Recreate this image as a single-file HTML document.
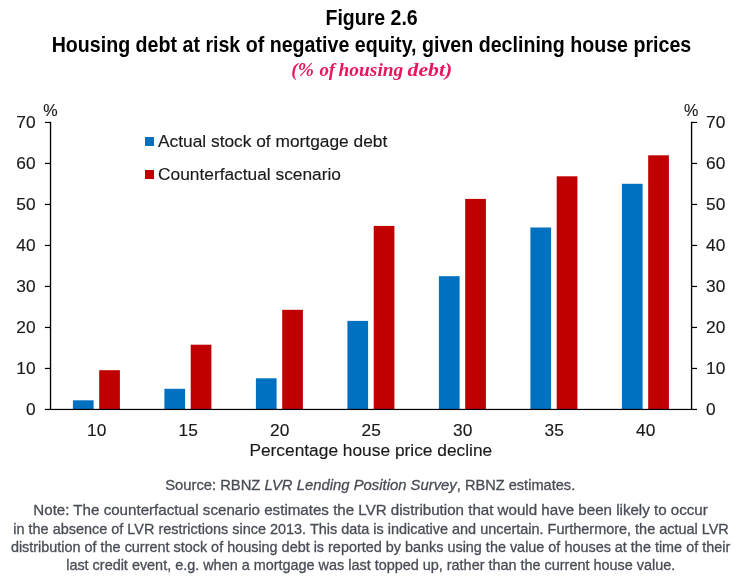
<!DOCTYPE html>
<html><head><meta charset="utf-8"><title>Figure 2.6</title>
<style>
html,body{margin:0;padding:0;background:#fff;}
svg{display:block;}
text{font-family:"Liberation Sans",sans-serif;}
.ax{font-size:17.33px;fill:#1a1a1a;stroke:#1a1a1a;stroke-width:0.15px;}
.note{font-size:14.8px;fill:#494d56;stroke:#494d56;stroke-width:0.3px;}
.ttl{font-weight:bold;font-size:21.7px;fill:#000;}
.sub{font-family:"Liberation Serif",serif;font-weight:bold;font-style:italic;font-size:19.6px;word-spacing:-1px;fill:#e8175d;}
</style></head><body>
<svg width="744" height="587" viewBox="0 0 744 587">
<rect width="744" height="587" fill="#fff"/>
<text class="ttl" x="325.5" y="25" textLength="92.2" lengthAdjust="spacingAndGlyphs">Figure 2.6</text>
<text class="ttl" x="51.7" y="52" textLength="639.6" lengthAdjust="spacingAndGlyphs">Housing debt at risk of negative equity, given declining house prices</text>
<text class="sub" y="75.5"><tspan x="291.3" textLength="26.5" lengthAdjust="spacingAndGlyphs">(% </tspan><tspan x="319.4" textLength="19.5" lengthAdjust="spacingAndGlyphs">of </tspan><tspan x="338.6" textLength="68.5" lengthAdjust="spacingAndGlyphs">housing </tspan><tspan x="407.6" textLength="44.6" lengthAdjust="spacingAndGlyphs">debt)</tspan></text>
<rect x="72.9" y="400.3" width="20.7" height="8.7" fill="#0070c0"/>
<rect x="99.2" y="370.2" width="20.7" height="38.8" fill="#c00000"/>
<rect x="164.4" y="388.8" width="20.7" height="20.2" fill="#0070c0"/>
<rect x="190.7" y="344.7" width="20.7" height="64.3" fill="#c00000"/>
<rect x="255.9" y="378.3" width="20.7" height="30.7" fill="#0070c0"/>
<rect x="282.2" y="309.8" width="20.7" height="99.2" fill="#c00000"/>
<rect x="347.4" y="320.9" width="20.7" height="88.1" fill="#0070c0"/>
<rect x="373.7" y="225.9" width="20.7" height="183.1" fill="#c00000"/>
<rect x="438.9" y="276.2" width="20.7" height="132.8" fill="#0070c0"/>
<rect x="465.2" y="198.9" width="20.7" height="210.1" fill="#c00000"/>
<rect x="530.4" y="227.5" width="20.7" height="181.5" fill="#0070c0"/>
<rect x="556.7" y="176.3" width="20.7" height="232.7" fill="#c00000"/>
<rect x="621.9" y="183.8" width="20.7" height="225.2" fill="#0070c0"/>
<rect x="648.2" y="155.3" width="20.7" height="253.7" fill="#c00000"/>
<g fill="#000">
<rect x="49.85" y="121.85" width="1.35" height="288.1"/>
<rect x="690.9" y="121.85" width="1.35" height="288.1"/>
<rect x="49.85" y="408.85" width="642.4" height="1.2"/>
<rect x="44.9" y="408.85" width="5.5" height="1.2"/>
<rect x="691.5" y="408.85" width="5.5" height="1.2"/>
<rect x="44.9" y="367.85" width="5.5" height="1.2"/>
<rect x="691.5" y="367.85" width="5.5" height="1.2"/>
<rect x="44.9" y="326.85" width="5.5" height="1.2"/>
<rect x="691.5" y="326.85" width="5.5" height="1.2"/>
<rect x="44.9" y="285.85" width="5.5" height="1.2"/>
<rect x="691.5" y="285.85" width="5.5" height="1.2"/>
<rect x="44.9" y="244.85" width="5.5" height="1.2"/>
<rect x="691.5" y="244.85" width="5.5" height="1.2"/>
<rect x="44.9" y="203.85" width="5.5" height="1.2"/>
<rect x="691.5" y="203.85" width="5.5" height="1.2"/>
<rect x="44.9" y="162.85" width="5.5" height="1.2"/>
<rect x="691.5" y="162.85" width="5.5" height="1.2"/>
<rect x="44.9" y="121.85" width="5.5" height="1.2"/>
<rect x="691.5" y="121.85" width="5.5" height="1.2"/>
</g>
<text class="ax" x="35.6" y="415" text-anchor="end">0</text>
<text class="ax" x="706" y="415">0</text>
<text class="ax" x="35.6" y="374" text-anchor="end">10</text>
<text class="ax" x="706" y="374">10</text>
<text class="ax" x="35.6" y="333" text-anchor="end">20</text>
<text class="ax" x="706" y="333">20</text>
<text class="ax" x="35.6" y="292" text-anchor="end">30</text>
<text class="ax" x="706" y="292">30</text>
<text class="ax" x="35.6" y="251" text-anchor="end">40</text>
<text class="ax" x="706" y="251">40</text>
<text class="ax" x="35.6" y="210" text-anchor="end">50</text>
<text class="ax" x="706" y="210">50</text>
<text class="ax" x="35.6" y="169" text-anchor="end">60</text>
<text class="ax" x="706" y="169">60</text>
<text class="ax" x="35.6" y="128" text-anchor="end">70</text>
<text class="ax" x="706" y="128">70</text>
<text class="ax" x="43.2" y="116" textLength="14.4" lengthAdjust="spacingAndGlyphs">%</text>
<text class="ax" x="684" y="116" textLength="14.4" lengthAdjust="spacingAndGlyphs">%</text>
<text class="ax" x="96.75" y="436" text-anchor="middle">10</text>
<text class="ax" x="188.25" y="436" text-anchor="middle">15</text>
<text class="ax" x="279.75" y="436" text-anchor="middle">20</text>
<text class="ax" x="371.25" y="436" text-anchor="middle">25</text>
<text class="ax" x="462.75" y="436" text-anchor="middle">30</text>
<text class="ax" x="554.25" y="436" text-anchor="middle">35</text>
<text class="ax" x="645.75" y="436" text-anchor="middle">40</text>
<text class="ax" x="370.8" y="456" text-anchor="middle">Percentage house price decline</text>
<rect x="145" y="137" width="9" height="9" fill="#0070c0"/>
<text class="ax" x="158" y="147">Actual stock of mortgage debt</text>
<rect x="145" y="170" width="9" height="9" fill="#c00000"/>
<text class="ax" x="158" y="180">Counterfactual scenario</text>
<text class="note" y="490"><tspan x="165.2" textLength="99.3" lengthAdjust="spacingAndGlyphs">Source: RBNZ </tspan><tspan x="264.5" textLength="192.3" lengthAdjust="spacingAndGlyphs" font-style="italic">LVR Lending Position Survey</tspan><tspan x="456.8" textLength="118.4" lengthAdjust="spacingAndGlyphs">, RBNZ estimates.</tspan></text>
<text class="note" x="33.3" y="514.6" textLength="674.5" lengthAdjust="spacingAndGlyphs">Note: The counterfactual scenario estimates the LVR distribution that would have been likely to occur</text>
<text class="note" x="13.3" y="533.6" textLength="715.5" lengthAdjust="spacingAndGlyphs">in the absence of LVR restrictions since 2013. This data is indicative and uncertain. Furthermore, the actual LVR</text>
<text class="note" x="10.9" y="551.6" textLength="719.3" lengthAdjust="spacingAndGlyphs">distribution of the current stock of housing debt is reported by banks using the value of houses at the time of their</text>
<text class="note" x="66.2" y="569.6" textLength="609" lengthAdjust="spacingAndGlyphs">last credit event, e.g. when a mortgage was last topped up, rather than the current house value.</text>
</svg>
</body></html>
